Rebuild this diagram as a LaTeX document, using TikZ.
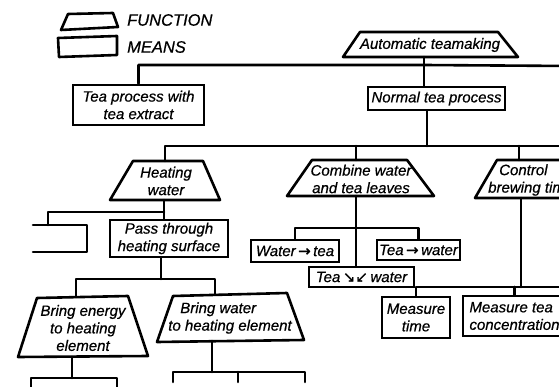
\documentclass[tikz,border=0pt]{standalone}
\usepackage{fontspec}
\setmainfont{Liberation Sans}
\newfontfamily\handfam{Liberation Sans}[FakeBold=0.6]
\newfontfamily\symf{DejaVu Sans}[FakeBold=0.6]
\newcommand\handf{\handfam\itshape\fontsize{15}{17.5}\selectfont}
\newcommand\legf{\handfam\itshape\fontsize{16.5}{19}\selectfont}
\begin{document}
\begin{tikzpicture}[x=1pt,y=-1pt,
  ln/.style={line width=2.6pt, line join=round, line cap=round},
  means/.style={draw, line width=2.6pt, inner sep=0pt, align=center, font=\handf},
  txt/.style={inner sep=0pt, align=center, font=\handf}]
\useasboundingbox (0,0) rectangle (559,387);
\clip (0,0) rectangle (559,387);

% legend
\draw[ln] (68,14) -- (113,13) -- (118,27) -- (61,30) -- cycle;
\node[txt, anchor=west, font=\legf] (lfun) at (127,20) {FUNCTION};
\draw[ln] (58,38) -- (117,36) -- (117,55) -- (59,57) -- cycle;
\node[txt, anchor=west, font=\legf] (lmea) at (127,47) {MEANS};

% top function
\draw[ln] (360,32) -- (498,32) -- (518,57) -- (343,57) -- cycle;
\node[txt] (auto) at (430,45) {Automatic teamaking};
\coordinate (autoB) at (424,57);
\coordinate (j1) at (424,65);
\coordinate (r1) at (570,66);
\node[means, minimum width=131pt, minimum height=40pt] (tpe) at (138.5,105) {Tea process with\\tea extract};
\node[means, minimum width=137pt, minimum height=23pt] (ntp) at (436.5,98.5) {Normal tea process};
\draw[ln] (autoB) -- (j1);
\draw[ln] (tpe.north) |- (j1) -- (r1);
\draw[ln] (j1) -- (j1 |- ntp.north);

% level 2
\coordinate (j2) at (427,146);
\coordinate (r2) at (570,146);
\draw[ln] (j2 |- ntp.south) -- (j2);
% heating water
\draw[ln] (133,161) -- (203,161) -- (220,200) -- (110,200) -- cycle;
\node[txt] (hw) at (166,181) {Heating\\water};
\coordinate (hwT) at (165,161);
\coordinate (hwB) at (164,200);
\draw[ln] (hwT) |- (r2);
% combine
\draw[ln] (312,160) -- (407,160) -- (434,196) -- (287,196) -- cycle;
\node[txt] (cw) at (361,179) {Combine water\\and tea leaves};
\coordinate (cwT) at (356,160);
\coordinate (cwB) at (356,196);
\draw[ln] (cwT) -- (cwT |- j2);
% control
\draw[ln] (497,160) -- (610,160) -- (630,198) -- (475,198) -- cycle;
\node[txt, align=left, anchor=west] (cb) at (488,180) {\hspace*{11pt}Control\\brewing time};
\coordinate (cbT) at (519,160);
\coordinate (cbB) at (521,198);
\draw[ln] (cbT) -- (cbT |- j2);

% under heating water
\coordinate (j3) at (164,212);
\node[means, minimum width=118pt, minimum height=37pt] (pth) at (169,238.5) {Pass through\\heating surface};
\draw[ln] (hwB) -- (j3) -- (j3 |- pth.north);
\coordinate (pbT) at (48,225);
\draw[ln] (j3) -| (pbT);
\coordinate (pb1) at (33,225);
\coordinate (pb2) at (87,252);
\coordinate (pb3) at (33,252);
\draw[ln] (pb1) -| (pb2) -- (pb3);

% under combine
\coordinate (j4) at (356,228);
\node[means, minimum width=88pt, minimum height=22pt] (wt) at (295,251) {Water\,{\symf\upshape →}\,tea};
\node[means, minimum width=83pt, minimum height=20pt] (tw) at (418.5,250) {Tea\,{\symf\upshape →}\,water};
\node[means, minimum width=105pt, minimum height=20pt] (tt) at (361.5,277) {Tea\,{\symf\upshape ↘↙}\,water};
\draw[ln] (cwB) -- (cwB |- tt.north);
\draw[ln] (wt.north) |- (j4) -| (tw.north);

% under control
\coordinate (j5) at (521,287);
\coordinate (r5) at (570,287);
\node[means, minimum width=68pt, minimum height=41pt] (mt) at (416,317.5) {Measure\\time};
\node[means, minimum width=103pt, minimum height=40pt, align=left] (mc) at (514.5,316) {Measure tea\\concentration};
\draw[ln] (cbB) -- (j5);
\draw[ln] (mt.north) |- (j5) -- (r5);
\draw[ln] (mc.north) -- (mc.north |- j5);

% under pass through
\coordinate (j6) at (161,279);
\draw[ln] (37,298) -- (128,296) -- (148,356) -- (18,357) -- cycle;
\node[txt] (be) at (83,328) {Bring energy\\to heating\\element};
\coordinate (beT) at (76,297);
\coordinate (beB) at (72,357);
\draw[ln] (173,296) -- (287,293) -- (304,340) -- (157,342) -- cycle;
\node[txt, align=left] (bw) at (230,318) {\hspace*{12pt}Bring water\\to heating element};
\coordinate (bwT) at (215,294);
\coordinate (bwB) at (212,341);
\draw[ln] (j6 |- pth.south) -- (j6);
\draw[ln] (beT) |- (j6) -| (bwT);

% under bring energy
\coordinate (j7) at (72,378);
\coordinate (be1) at (31,395);
\coordinate (be2) at (117,395);
\draw[ln] (beB) -- (j7);
\draw[ln] (be1) |- (j7) -| (be2);

% under bring water
\coordinate (j8) at (212,372);
\coordinate (bw1) at (173,382);
\coordinate (bw2) at (238,382);
\coordinate (bw3) at (305,382);
\draw[ln] (bwB) -- (j8);
\draw[ln] (bw1) |- (j8) -| (bw3);
\draw[ln] (bw2) -- (bw2 |- j8);
\end{tikzpicture}
\end{document}
